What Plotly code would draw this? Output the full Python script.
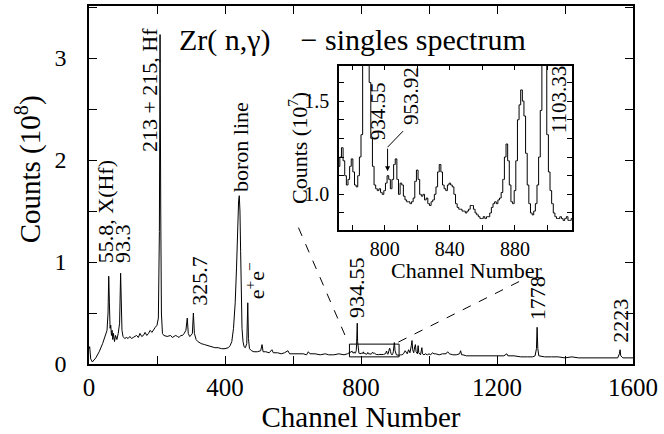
import plotly.graph_objects as go

# ---------------- data ----------------
# main spectrum, channels below the inset window (counts in 1e8)
low_ch = [0, 2, 5, 10, 20, 30, 40, 48, 53, 56, 58, 60, 62, 64, 66, 68, 70, 72, 75, 78, 82, 86, 90, 93, 95, 97,
          100, 105, 110, 115, 120, 125, 130, 135, 140, 145, 150, 155, 160, 165, 170, 175, 180, 185, 190, 195,
          200, 204, 207, 209, 211, 213, 216, 220, 230, 240, 245, 250, 255, 260, 265, 270, 275, 280, 285, 289,
          292, 296, 300, 304, 307, 310, 315, 320, 330, 340, 350, 360, 370, 380, 390, 400, 410, 415, 420, 425,
          430, 434, 437, 440, 442, 444, 446, 448, 450, 453, 456, 460, 464, 467, 469, 472, 478, 485, 495, 505,
          509, 512, 520, 530, 538, 542, 555, 565, 575, 585, 590, 600, 615, 630, 640, 645, 650, 665, 680, 695,
          705, 720, 735, 750, 760, 766]
low_counts = [0.15, 0.17, 0.05, 0.02, 0.06, 0.12, 0.20, 0.28, 0.33, 0.50, 0.86, 0.60, 0.35, 0.38, 0.28, 0.33,
              0.24, 0.30, 0.22, 0.28, 0.24, 0.30, 0.40, 0.89, 0.60, 0.33, 0.27, 0.25, 0.26, 0.25, 0.27, 0.25,
              0.26, 0.27, 0.28, 0.26, 0.30, 0.27, 0.28, 0.31, 0.28, 0.30, 0.33, 0.31, 0.34, 0.36, 0.38, 0.45,
              1.30, 3.23, 1.50, 0.50, 0.30, 0.28, 0.27, 0.28, 0.26, 0.27, 0.28, 0.27, 0.26, 0.28, 0.28, 0.30,
              0.33, 0.45, 0.30, 0.27, 0.28, 0.30, 0.50, 0.30, 0.24, 0.22, 0.20, 0.19, 0.18, 0.17, 0.16, 0.16,
              0.15, 0.15, 0.16, 0.18, 0.22, 0.35, 0.60, 0.95, 1.35, 1.60, 1.65, 1.50, 1.10, 0.65, 0.35, 0.22,
              0.17, 0.16, 0.20, 0.60, 0.25, 0.15, 0.13, 0.12, 0.12, 0.13, 0.19, 0.12, 0.12, 0.11, 0.14, 0.11,
              0.11, 0.10, 0.11, 0.13, 0.10, 0.10, 0.10, 0.10, 0.09, 0.12, 0.10, 0.10, 0.09, 0.10, 0.09, 0.09,
              0.10, 0.09, 0.10, 0.11]

# inset window, one value per channel 772..915 (counts in 1e7)
inset_first_channel = 772
inset_counts = [1.15, 1.20, 1.25, 1.18, 1.10, 1.05, 1.08, 1.15, 1.19, 1.12, 1.05, 1.04, 1.10, 1.20, 1.32,
                1.90, 2.50, 4.00, 2.20, 1.60, 1.30, 1.15, 1.05, 1.03, 1.02, 1.03, 1.01, 1.00, 1.02, 1.06,
                1.10, 1.08, 1.03, 1.08, 1.16, 1.19, 1.08, 1.00, 1.06, 1.05, 0.99, 0.97, 0.96, 0.96, 0.95,
                0.96, 0.98, 1.07, 1.13, 1.08, 1.00, 0.99, 1.00, 0.97, 0.98, 0.95, 0.94, 0.96, 0.97, 1.00,
                1.04, 1.12, 1.16, 1.12, 1.05, 1.03, 1.02, 1.05, 1.06, 1.05, 1.04, 1.00, 0.95, 0.93, 0.92,
                0.92, 0.91, 0.91, 0.90, 0.91, 0.92, 0.94, 0.94, 0.92, 0.90, 0.89, 0.88, 0.87, 0.87, 0.88,
                0.87, 0.88, 0.88, 0.90, 0.93, 0.95, 0.96, 0.95, 0.97, 0.98, 1.01, 1.08, 1.20, 1.27, 1.18,
                1.05, 0.96, 0.95, 1.02, 1.18, 1.40, 1.48, 1.56, 1.50, 1.42, 1.22, 1.05, 0.95, 0.90, 0.89,
                0.91, 0.95, 1.05, 1.20, 1.45, 1.80, 2.10, 1.80, 1.32, 1.12, 1.02, 0.95, 0.90, 0.88, 0.87,
                0.87, 0.88, 0.87, 0.86, 0.87, 0.88, 0.86, 0.86, 0.87]

# main spectrum, channels above the inset window (counts in 1e8)
high_ch = [916, 920, 925, 930, 933, 936, 940, 944, 948, 950, 952, 955, 958, 960, 962, 966, 968, 970, 975, 979,
           981, 985, 990, 995, 1000, 1005, 1010, 1015, 1020, 1030, 1040, 1050, 1055, 1058, 1060, 1070, 1080,
           1090, 1093, 1096, 1100, 1110, 1120, 1140, 1160, 1180, 1200, 1220, 1229, 1232, 1250, 1270, 1290,
           1305, 1312, 1316, 1318, 1320, 1323, 1340, 1360, 1380, 1400, 1420, 1440, 1460, 1480, 1500, 1520,
           1540, 1555, 1560, 1562, 1564, 1570, 1585, 1600]
high_counts = [0.09, 0.09, 0.10, 0.13, 0.11, 0.10, 0.14, 0.11, 0.18, 0.23, 0.14, 0.11, 0.17, 0.19, 0.12, 0.10,
               0.18, 0.11, 0.09, 0.16, 0.10, 0.09, 0.10, 0.09, 0.10, 0.09, 0.11, 0.10, 0.10, 0.09, 0.10, 0.10,
               0.12, 0.11, 0.10, 0.09, 0.09, 0.10, 0.13, 0.09, 0.09, 0.08, 0.08, 0.08, 0.08, 0.08, 0.08, 0.08,
               0.10, 0.08, 0.08, 0.07, 0.07, 0.07, 0.08, 0.15, 0.36, 0.15, 0.08, 0.07, 0.07, 0.07, 0.06, 0.07,
               0.06, 0.06, 0.06, 0.06, 0.06, 0.06, 0.06, 0.10, 0.14, 0.08, 0.06, 0.06, 0.06]

x_ticks_main = [0, 400, 800, 1200, 1600]
y_ticks_main = [0, 1, 2, 3]
x_ticks_inset = [800, 840, 880]
y_ticks_inset = [1.0, 1.5]

main_peak_labels = ["55.8, X(Hf)", "93.3", "213 + 215, Hf", "325.7", "boron line",
                    "e<sup>+</sup>e<sup>−</sup>", "934.55", "1778", "2223"]
inset_peak_labels = ["934.55", "953.92", "1103.33"]

# ---------------- build ----------------
inset_ch = list(range(inset_first_channel, inset_first_channel + len(inset_counts)))
main_x = low_ch + inset_ch + high_ch
main_y = low_counts + [v / 10 for v in inset_counts] + high_counts

FONT = "Liberation Serif"
fig = go.Figure()
fig.add_trace(go.Scatter(x=main_x, y=main_y, mode="lines", line=dict(color="black", width=1),
                         xaxis="x", yaxis="y", showlegend=False, hoverinfo="skip"))
fig.add_trace(go.Scatter(x=inset_ch, y=inset_counts, mode="lines", line=dict(color="black", width=1, shape="hvh"),
                         xaxis="x2", yaxis="y2", showlegend=False, hoverinfo="skip", cliponaxis=True))

ax_common = dict(showline=True, linecolor="black", linewidth=1.5, mirror="ticks", ticks="inside",
                 tickcolor="black", showgrid=False, zeroline=False, color="black")

fig.update_layout(
    width=664, height=434,
    margin=dict(l=89, r=31, t=4, b=70),
    paper_bgcolor="white", plot_bgcolor="white",
    font=dict(family=FONT, color="black"),
    xaxis=dict(**ax_common, domain=[0, 1], range=[0, 1600], tickvals=x_ticks_main, ticklen=8, tickwidth=1,
               minor=dict(ticks="inside", dtick=200, ticklen=8, tickcolor="black", tickwidth=1, showgrid=False),
               tickfont=dict(size=25), title=dict(text="Channel Number", font=dict(size=29), standoff=6)),
    yaxis=dict(**ax_common, domain=[0, 1], range=[0, 3.51], tickvals=y_ticks_main, ticklen=8, tickwidth=1,
               minor=dict(ticks="inside", dtick=0.5, ticklen=8, tickcolor="black", tickwidth=1, showgrid=False),
               tickfont=dict(size=24), ticklabelstandoff=16),
    xaxis2=dict(**ax_common, domain=[0.4596, 0.8879], anchor="y2", range=[772, 915], tickvals=x_ticks_inset,
                ticklen=5, tickwidth=1,
                minor=dict(ticks="inside", dtick=20, ticklen=5, tickcolor="black", tickwidth=1, showgrid=False),
                tickfont=dict(size=20)),
    yaxis2=dict(**ax_common, domain=[0.375, 0.8333], anchor="x2", range=[0.81, 1.69], tickvals=y_ticks_inset,
                tickformat=".1f", ticklen=5, tickwidth=1,
                minor=dict(ticks="inside", dtick=0.1, ticklen=5, tickcolor="black", tickwidth=1, showgrid=False),
                tickfont=dict(size=20), ticklabelstandoff=4),
)

# axis titles placed as in the reference
fig.add_annotation(x=-0.112, y=0.544, xref="paper", yref="paper", text="Counts (10<sup>8</sup>)",
                   textangle=-90, showarrow=False, xanchor="center", yanchor="middle",
                   font=dict(size=29, family=FONT))
fig.add_annotation(x=0.695, y=0.262, xref="paper", yref="paper", text="Channel Number",
                   showarrow=False, xanchor="center", yanchor="middle", font=dict(size=22, family=FONT))
fig.add_annotation(x=0.384, y=0.603, xref="paper", yref="paper", text="Counts (10<sup>7</sup>)",
                   textangle=-90, showarrow=False, xanchor="center", yanchor="middle",
                   font=dict(size=22, family=FONT))

# rotated peak labels in the main panel (channel, bottom of text)
main_label_places = [(49, 0.97), (98, 0.97), (180, 2.06), (326, 0.55), (445, 1.67), (488, 0.62),
                     (786, 0.43), (1318, 0.41), (1565, 0.19)]
for txt, (cx, cy) in zip(main_peak_labels, main_label_places):
    fig.add_annotation(x=cx, y=cy, xref="x", yref="y", text=txt, textangle=-90, showarrow=False,
                       xanchor="center", yanchor="bottom", font=dict(size=22, family=FONT))

inset_label_places = [(796, 1.28), (816, 1.36), (907, 1.32)]
for txt, (cx, cy) in zip(inset_peak_labels, inset_label_places):
    fig.add_annotation(x=cx, y=cy, xref="x2", yref="y2", text=txt, textangle=-90, showarrow=False,
                       xanchor="center", yanchor="bottom", font=dict(size=21, family=FONT))

# arrow to the 953.92 peak
fig.add_shape(type="line", xref="x2", yref="y2", x0=811.3, y0=1.339, x1=801.8, y1=1.253,
              line=dict(color="black", width=1))
fig.add_annotation(x=801.8, y=1.124, ax=801.8, ay=1.253, xref="x2", yref="y2", axref="x2", ayref="y2",
                   text="", showarrow=True, arrowhead=2, arrowsize=1, arrowwidth=1, arrowcolor="black")

# zoom window and dashed guide lines in the main panel
fig.add_shape(type="rect", xref="x", yref="y", x0=766, x1=912, y0=0.07, y1=0.195,
              line=dict(color="black", width=1))
fig.add_shape(type="line", xref="x", yref="y", x0=616, y0=1.337, x1=763, y1=0.205,
              line=dict(color="black", width=1, dash="dash"))
fig.add_shape(type="line", xref="x", yref="y", x0=910, y0=0.215, x1=1290, y1=0.85,
              line=dict(color="black", width=1, dash="dash"))

# title
fig.add_annotation(x=0.485, y=0.905, xref="paper", yref="paper",
                   text="Zr( n,γ)\u00a0\u00a0\u00a0 − singles spectrum", showarrow=False,
                   xanchor="center", yanchor="middle", font=dict(size=30, family=FONT))

fig.write_html("out.html", config={"displayModeBar": False},
               post_script="document.body.style.margin='0';")
